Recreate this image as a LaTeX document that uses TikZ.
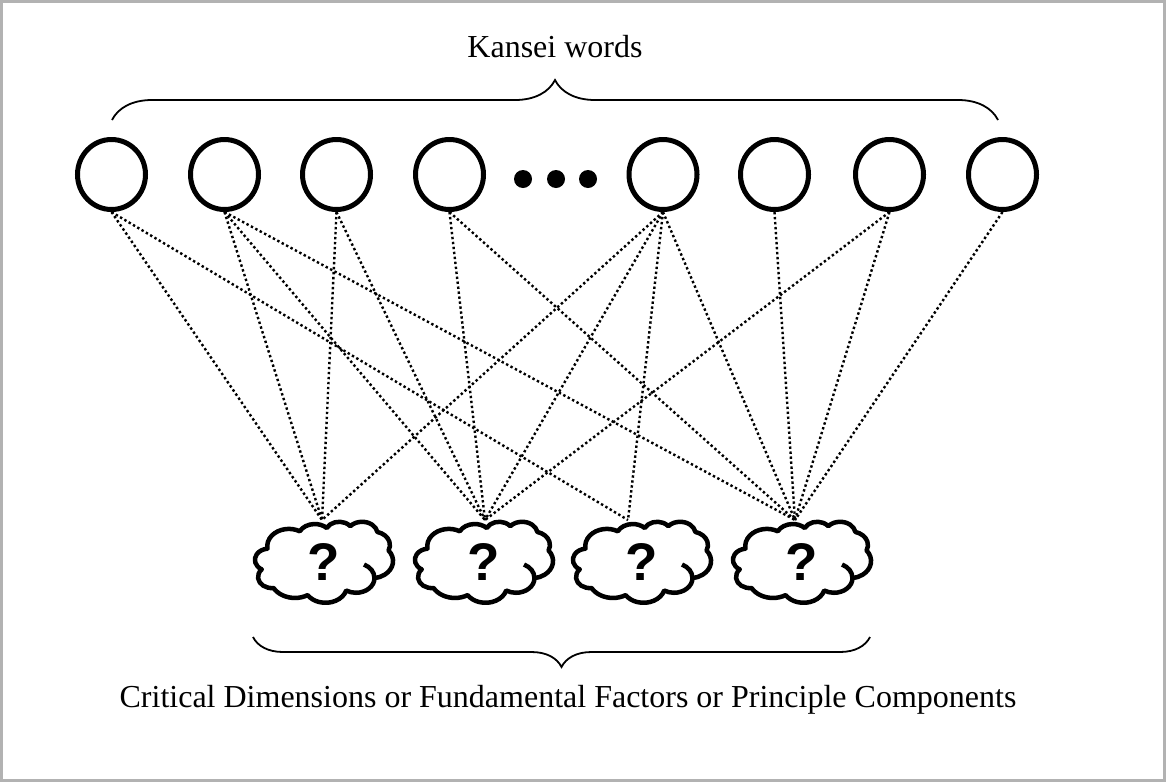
\documentclass[tikz,border=0pt]{standalone}
\usepackage{fontspec}
\setmainfont{Liberation Serif}
\newfontfamily\qfont{Liberation Sans}
\usetikzlibrary{shapes.geometric,decorations.pathreplacing,calc}
\newcommand\cldcalc[4]{%
  \pgfmathsetmacro\cA{#1}\global\let\cA\cA
  \pgfmathsetmacro\cB{#2}\global\let\cB\cB
  \pgfmathsetmacro\tS{atan2(#1*sin(#3),#2*cos(#3))}\global\let\tS\tS
  \pgfmathsetmacro\tE{atan2(#1*sin(#3+#4),#2*cos(#3+#4))}%
  \pgfmathsetmacro\tD{mod(\tE-\tS+720,360)}\global\let\tD\tD}
\newcommand\cldarc{arc[start angle=\tS, delta angle=\tD, x radius=\cA, y radius=\cB]}
\newcommand\drawcloud[1]{%
  \begin{scope}[shift={(#1.center)}, shift={(-69,-40.5)}, x=0.31944pt, y=-0.1875pt]
    \draw[cloudline] (39,143.70)
      \pgfextra{\cldcalc{67.53}{91.90}{-190.48748}{123.78053}} arc[start angle=\tS, delta angle=\tD, x radius=\cA, y radius=\cB]
      \pgfextra{\cldcalc{53.33}{72.67}{-144.10238}{89.94523}} arc[start angle=\tS, delta angle=\tD, x radius=\cA, y radius=\cB]
      \pgfextra{\cldcalc{43.65}{59.45}{-145.80792}{99.72302}} arc[start angle=\tS, delta angle=\tD, x radius=\cA, y radius=\cB]
      \pgfextra{\cldcalc{48.57}{65.95}{-130.98607}{117.24173}} arc[start angle=\tS, delta angle=\tD, x radius=\cA, y radius=\cB]
      \pgfextra{\cldcalc{53.33}{72.73}{-78.70888}{109.02692}} arc[start angle=\tS, delta angle=\tD, x radius=\cA, y radius=\cB]
      \pgfextra{\cldcalc{67.75}{92.20}{-46.26725}{130.269}} arc[start angle=\tS, delta angle=\tD, x radius=\cA, y radius=\cB]
      \pgfextra{\cldcalc{57.85}{78.67}{0.62502}{114.03333}} arc[start angle=\tS, delta angle=\tD, x radius=\cA, y radius=\cB]
      \pgfextra{\cldcalc{67.52}{92.15}{22.4516}{115.17255}} arc[start angle=\tS, delta angle=\tD, x radius=\cA, y radius=\cB]
      \pgfextra{\cldcalc{77.20}{105.43}{66.24263}{75.71102}} arc[start angle=\tS, delta angle=\tD, x radius=\cA, y radius=\cB]
      \pgfextra{\cldcalc{43.60}{59.18}{-274.94208}{146.73557}} arc[start angle=\tS, delta angle=\tD, x radius=\cA, y radius=\cB]
      \pgfextra{\cldcalc{43.45}{59.45}{-246.8285}{152.51885}} arc[start angle=\tS, delta angle=\tD, x radius=\cA, y radius=\cB]
      -- cycle;
    \draw[cloudline] (341.29,229.54)
      \pgfextra{\cldcalc{57.85}{78.67}{-70.29235}{70.91737}} arc[start angle=\tS, delta angle=\tD, x radius=\cA, y radius=\cB];
  \end{scope}}
\begin{document}
\begin{tikzpicture}[x=1pt,y=-1pt,
  word/.style={ellipse, draw, line width=5pt, minimum width=68pt, minimum height=70pt, inner sep=0pt},
  factor/.style={rectangle, minimum width=138pt, minimum height=81pt, inner sep=0pt,
    font=\qfont\bfseries\fontsize{53}{53}\selectfont},
  cloudline/.style={line width=4.5pt, line join=round},
  link/.style={line width=2.4pt, dash pattern=on 2.4pt off 2.6pt},
  bracetop/.style={decorate, decoration={brace, amplitude=40pt}, line width=1.8pt},
  bracebot/.style={decorate, decoration={brace, amplitude=30pt}, line width=1.8pt},
  bigdot/.style={circle, fill, minimum size=18pt, inner sep=0pt},
  label/.style={font=\fontsize{32}{38}\selectfont, inner sep=0pt, anchor=base}
]
\useasboundingbox (0,0) rectangle (1166,782);
\draw[gray!60, line width=3pt] (1.5,1.5) rectangle (1164.5,780.5);

% Kansei word nodes
\node[word] (c1) at (111.5,174.5) {};
\node[word] (c2) at (224.5,174.5) {};
\node[word] (c3) at (336.5,174.5) {};
\node[word] (c4) at (449.5,174.5) {};
\node[word] (c5) at (663,174.5) {};
\node[word] (c6) at (774.5,174.5) {};
\node[word] (c7) at (889.5,174.5) {};
\node[word] (c8) at (1002.5,174.5) {};
\node[bigdot] (d1) at (523,179) {};
\node[bigdot] (d2) at (556,179) {};
\node[bigdot] (d3) at (588,179) {};

% factor clouds
\node[factor] (q1) at (324,562) {?};
\node[factor] (q2) at (484,562) {?};
\node[factor] (q3) at (642,562) {?};
\node[factor] (q4) at (802,562) {?};
\drawcloud{q1}
\drawcloud{q2}
\drawcloud{q3}
\drawcloud{q4}

\coordinate (t1) at (322,520);
\coordinate (t2) at (485,520);
\coordinate (t3) at (628,520);
\coordinate (t4) at (795,520);

% links
\draw[link] (c1.south) -- (t1);
\draw[link] (c1.south) -- (t3);
\draw[link] (c2.south) -- (t1);
\draw[link] (c2.south) -- (t2);
\draw[link] (c2.south) -- (t4);
\draw[link] (c3.south) -- (t1);
\draw[link] (c3.south) -- (t2);
\draw[link] (c4.south) -- (t2);
\draw[link] (c4.south) -- (t4);
\draw[link] (c5.south) -- (t1);
\draw[link] (c5.south) -- (t2);
\draw[link] (c5.south) -- (t3);
\draw[link] (c5.south) -- (t4);
\draw[link] (c6.south) -- (t4);
\draw[link] (c7.south) -- (t2);
\draw[link] (c7.south) -- (t4);
\draw[link] (c8.south) -- (t4);

% braces and labels
\coordinate (bl) at (112,120);
\coordinate (br) at (998,120);
\draw[bracetop] (bl) -- (br);
\node[label] (kw) at (555,57) {Kansei words};

\coordinate (cl) at (253,637);
\coordinate (cr) at (870,637);
\draw[bracebot] (cr) -- (cl);
\node[label] (cd) at (568,707) {Critical Dimensions or Fundamental Factors or Principle Components};
\end{tikzpicture}
\end{document}
